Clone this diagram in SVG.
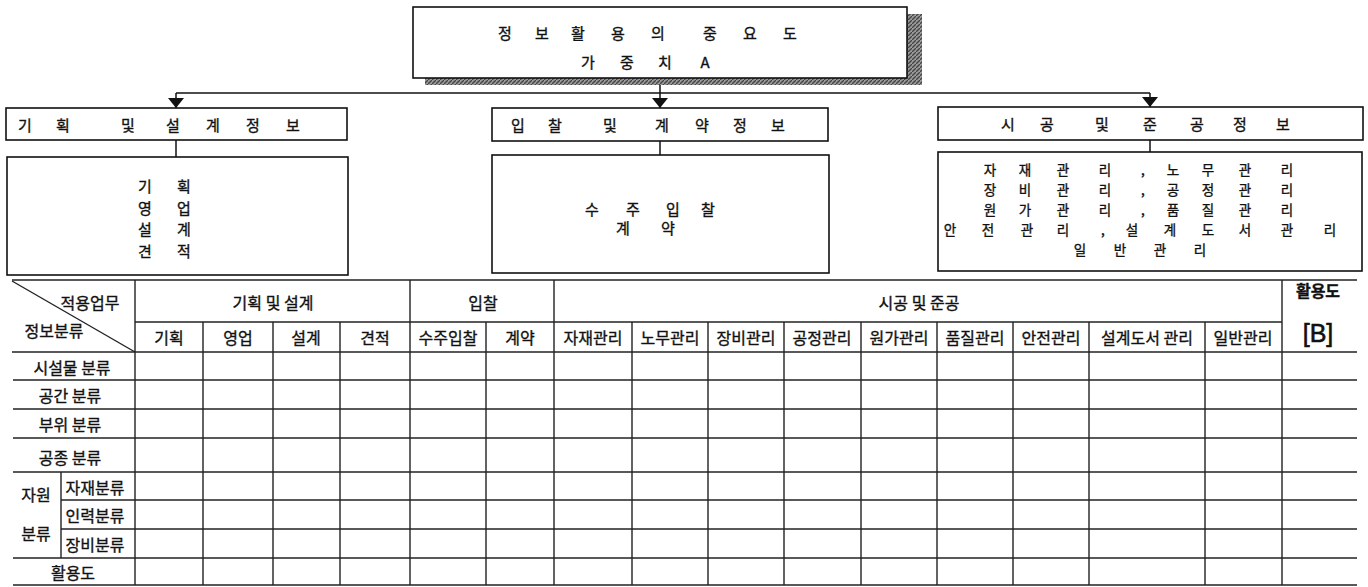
<svg xmlns="http://www.w3.org/2000/svg" width="1368" height="587" viewBox="0 0 1368 587">
<style>
.t{font-family:"Noto Sans CJK KR","Noto Sans",sans-serif;fill:#111;stroke:#111;stroke-width:0.35;dominant-baseline:central;text-anchor:middle}
.s13{font-size:13.5px}
.s14{font-size:15px}
.s15{font-size:16px}
.box{fill:#fff;stroke:#111;stroke-width:1.6}
.ln{stroke:#111;stroke-width:1.5;fill:none}
.tl{stroke:#222;stroke-width:1.4;fill:none}
</style>
<defs>
<marker id="arr" viewBox="0 0 10 16" refX="10" refY="8" markerWidth="10" markerHeight="16" markerUnits="userSpaceOnUse" orient="auto">
<path d="M0,0 L10,8 L0,16 z" fill="#111"/>
</marker>
<pattern id="hatch" width="4" height="4" patternUnits="userSpaceOnUse">
<rect width="4" height="4" fill="#9a9a9a"/>
<path d="M0,4 L4,0" stroke="#444" stroke-width="1.3"/>
</pattern>
</defs>
<rect width="1368" height="587" fill="#fff"/>

<g id="connectors">
<path class="ln" d="M660,85 V108" marker-end="url(#arr)"/>
<path class="ln" d="M176,93 H1150"/>
<path class="ln" d="M176,93 V108" marker-end="url(#arr)"/>
<path class="ln" d="M1150,93 V107" marker-end="url(#arr)"/>
<path class="ln" d="M176,140 V157"/>
<path class="ln" d="M660,141 V155"/>
<path class="ln" d="M1150,140 V152"/>
</g>

<g id="node-top">
<rect x="907" y="14" width="15" height="71" fill="url(#hatch)"/>
<rect x="425" y="78" width="497" height="7" fill="url(#hatch)"/>
<rect class="box" x="413" y="7" width="494" height="71"/>
<text class="t s14" x="505 542 578 618 658 710 750 790" y="32">정보활용의중요도</text>
<text class="t s14" x="588 627 665 705" y="61">가중치A</text>
</g>

<g id="node-plan-header">
<rect class="box" x="6" y="108" width="341" height="32"/>
<text class="t s14" x="25 63 128 173 213 253 293" y="124">기획및설계정보</text>
</g>
<g id="node-bid-header">
<rect class="box" x="492" y="108" width="336" height="33"/>
<text class="t s14" x="518 555 610 662 702 740 778" y="124">입찰및계약정보</text>
</g>
<g id="node-const-header">
<rect class="box" x="938" y="107" width="425" height="33"/>
<text class="t s14" x="1008 1047 1102 1150 1197 1240 1283" y="123">시공및준공정보</text>
</g>

<g id="node-plan-content">
<rect class="box" x="7" y="157" width="341" height="118"/>
<text class="t s14"><tspan x="145 184" y="185">기획</tspan><tspan x="145 184" y="207">영업</tspan><tspan x="145 184" y="228">설계</tspan><tspan x="145 184" y="250">견적</tspan></text>
</g>
<g id="node-bid-content">
<rect class="box" x="492" y="155" width="337" height="118"/>
<text class="t s14"><tspan x="592 633 673 708" y="208">수주입찰</tspan><tspan x="623 668" y="227">계약</tspan></text>
</g>
<g id="node-const-content">
<rect class="box" x="938" y="152" width="424" height="119"/>
<text class="t s13" x="990 1025 1063 1105 1143 1173 1208 1245 1287" y="169">자재관리,노무관리</text>
<text class="t s13" x="990 1025 1063 1105 1143 1173 1208 1245 1287" y="189">장비관리,공정관리</text>
<text class="t s13" x="990 1025 1063 1105 1143 1173 1208 1245 1287" y="209">원가관리,품질관리</text>
<text class="t s13" x="950 988 1027 1063 1103 1132 1170 1208 1245 1287 1330" y="229">안전관리,설계도서관리</text>
<text class="t s13" x="1080 1120 1160 1200" y="249">일반관리</text>
</g>

<g id="table">
<g class="tl">
<path d="M12,280 H1357"/>
<path d="M135,322 H1282"/>
<path d="M12,352 H1357"/>
<path d="M13,380 H1357"/>
<path d="M13,409 H1357"/>
<path d="M13,438 H1357"/>
<path d="M13,472 H1357"/>
<path d="M61,500 H1357"/>
<path d="M61,529 H1357"/>
<path d="M13,558 H1357"/>
<path d="M13,585 H1357"/>
<path d="M12,281 L135,352"/>
<path d="M135,280 V585 M410,280 V585 M554,280 V585 M1282,280 V585"/>
<path d="M203,322 V585 M273,322 V585 M340,322 V585 M486,322 V585 M632,322 V585 M708,322 V585 M784,322 V585 M861,322 V585 M937,322 V585 M1013,322 V585 M1089,322 V585 M1205,322 V585"/>
<path d="M61,472 V558"/>
</g>
<text class="t s15" x="90" y="302">적용업무</text>
<text class="t s15" x="54" y="330">정보분류</text>
<text class="t s15" x="273" y="302">기획 및 설계</text>
<text class="t s15" x="483" y="302">입찰</text>
<text class="t s15" x="919" y="302">시공 및 준공</text>
<text class="t s15" x="1318" y="290" font-weight="bold">활용도</text>
<text x="1318" y="333" font-family="'Liberation Sans Narrow','Liberation Sans',sans-serif" font-size="25" text-anchor="middle" dominant-baseline="central" fill="#111" stroke="#111" stroke-width="0.6">[B]</text>
<text class="t s15" x="169" y="337">기획</text>
<text class="t s15" x="238" y="337">영업</text>
<text class="t s15" x="306" y="337">설계</text>
<text class="t s15" x="375" y="337">견적</text>
<text class="t s15" x="448" y="337">수주입찰</text>
<text class="t s15" x="520" y="337">계약</text>
<text class="t s15" x="593" y="337">자재관리</text>
<text class="t s15" x="670" y="337">노무관리</text>
<text class="t s15" x="746" y="337">장비관리</text>
<text class="t s15" x="822" y="337">공정관리</text>
<text class="t s15" x="899" y="337">원가관리</text>
<text class="t s15" x="975" y="337">품질관리</text>
<text class="t s15" x="1051" y="337">안전관리</text>
<text class="t s15" x="1147" y="337">설계도서 관리</text>
<text class="t s15" x="1243" y="337">일반관리</text>
<text class="t s15" x="72" y="367">시설물 분류</text>
<text class="t s15" x="70" y="395">공간 분류</text>
<text class="t s15" x="70" y="424">부위 분류</text>
<text class="t s15" x="70" y="457">공종 분류</text>
<text class="t s15" x="36" y="494">자원</text>
<text class="t s15" x="36" y="533">분류</text>
<text class="t s15" x="95" y="487">자재분류</text>
<text class="t s15" x="95" y="515">인력분류</text>
<text class="t s15" x="95" y="544">장비분류</text>
<text class="t s15" x="73" y="572">활용도</text>
</g>
</svg>
